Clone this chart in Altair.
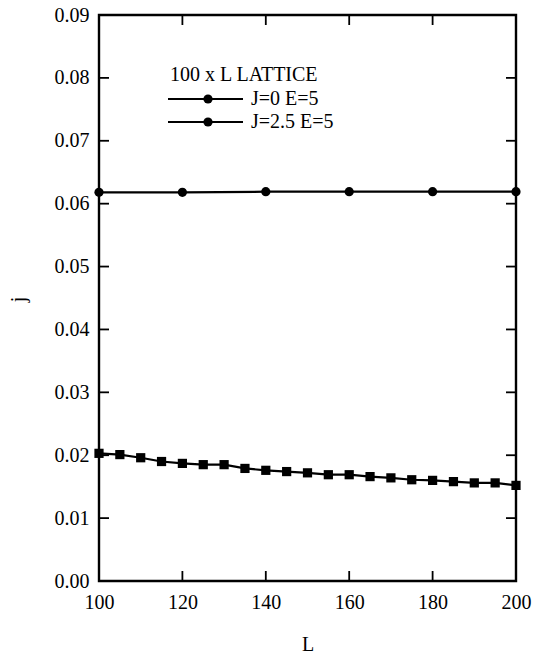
import altair as alt
import pandas as pd

# ---- data ----
L_circle = [100, 120, 140, 160, 180, 200]
j_circle = [0.0618, 0.0618, 0.0619, 0.0619, 0.0619, 0.0619]

L_square = [100, 105, 110, 115, 120, 125, 130, 135, 140, 145, 150,
            155, 160, 165, 170, 175, 180, 185, 190, 195, 200]
j_square = [0.0203, 0.0201, 0.0196, 0.0190, 0.0187, 0.0185, 0.0185,
            0.0179, 0.0176, 0.0174, 0.0172, 0.0169, 0.0169, 0.0166,
            0.0164, 0.0161, 0.0160, 0.0158, 0.0156, 0.0156, 0.0152]

x_ticks = [100, 120, 140, 160, 180, 200]
y_ticks = [0.00, 0.01, 0.02, 0.03, 0.04, 0.05, 0.06, 0.07, 0.08, 0.09]

legend_title = ["100 x L LATTICE"]
legend_labels = ["J=0 E=5", "J=2.5 E=5"]

FONT = "Liberation Serif"
W, H = 417, 566
TICK = 10

df_c = pd.DataFrame({"L": L_circle, "j": j_circle})
df_s = pd.DataFrame({"L": L_square, "j": j_square})
df_xt = pd.DataFrame({"L": x_ticks})
df_yt = pd.DataFrame({"j": y_ticks})

xs = alt.Scale(domain=[100, 200], nice=False)
ys = alt.Scale(domain=[0, 0.09], nice=False)

x_axis = alt.Axis(values=x_ticks, format="d", labelFlush=False,
                  labelPadding=11, title="L", titleY=69,
                  titleBaseline="alphabetic")
y_axis = alt.Axis(values=y_ticks, format=".2f", labelFlush=False,
                  labelPadding=10, title="j", titleAngle=270,
                  titleX=-81, titleY=284, titleAlign="center", titleBaseline="middle")


def X():
    return alt.X("L:Q", scale=xs, axis=x_axis)


def Y():
    return alt.Y("j:Q", scale=ys, axis=y_axis)


base_c = alt.Chart(df_c).encode(x=X(), y=Y())
line_c = base_c.mark_line(color="black", strokeWidth=2.2)
pts_c = base_c.mark_point(shape="circle", filled=True, color="black", size=85, opacity=1)

base_s = alt.Chart(df_s).encode(x=X(), y=Y())
line_s = base_s.mark_line(color="black", strokeWidth=2.2)
pts_s = base_s.mark_point(shape="square", filled=True, color="black", size=85, opacity=1)

# inward ticks on all four sides
xt_bot = alt.Chart(df_xt).mark_rule(color="black", strokeWidth=1.8).encode(
    x=X(), y=alt.value(H), y2=alt.value(H - TICK))
xt_top = alt.Chart(df_xt).mark_rule(color="black", strokeWidth=1.8).encode(
    x=X(), y=alt.value(0), y2=alt.value(TICK))
yt_left = alt.Chart(df_yt).mark_rule(color="black", strokeWidth=1.8).encode(
    y=Y(), x=alt.value(0), x2=alt.value(TICK))
yt_right = alt.Chart(df_yt).mark_rule(color="black", strokeWidth=1.8).encode(
    y=Y(), x=alt.value(W), x2=alt.value(W - TICK))

# legend (drawn manually)
leg_title = alt.Chart(pd.DataFrame({"t": legend_title})).mark_text(
    font=FONT, fontSize=20, align="left", baseline="middle", color="black"
).encode(x=alt.value(71), y=alt.value(60), text="t:N")

legend_layers = []
for i, lab in enumerate(legend_labels):
    yy = 84 + i * 23
    legend_layers.append(
        alt.Chart(pd.DataFrame({"t": [lab]})).mark_text(
            font=FONT, fontSize=20, align="left", baseline="middle", color="black"
        ).encode(x=alt.value(152), y=alt.value(yy), text="t:N"))
    legend_layers.append(
        alt.Chart(pd.DataFrame({"t": [lab]})).mark_rule(color="black", strokeWidth=1.8).encode(
            x=alt.value(69), x2=alt.value(144), y=alt.value(yy)))
    legend_layers.append(
        alt.Chart(pd.DataFrame({"t": [lab]})).mark_point(
            shape="circle", filled=True, color="black", size=85, opacity=1
        ).encode(x=alt.value(109), y=alt.value(yy)))

chart = alt.layer(
    line_c, pts_c, line_s, pts_s, xt_bot, xt_top, yt_left, yt_right,
    leg_title, *legend_layers
).properties(
    width=W, height=H,
    autosize=alt.AutoSizeParams(type="none"),
    padding={"left": 99, "top": 15, "right": 18, "bottom": 72},
    background="white",
).configure(
    font=FONT
).configure_view(
    stroke="black", strokeWidth=2.4
).configure_axis(
    ticks=False, tickSize=0, domain=False, grid=False,
    labelFont=FONT, labelFontSize=20, labelColor="black", labelFlush=False,
    titleFont=FONT, titleFontSize=20, titleFontWeight="normal", titleColor="black",
)

chart.save("out.html", embed_options={"renderer": "svg", "actions": False})
